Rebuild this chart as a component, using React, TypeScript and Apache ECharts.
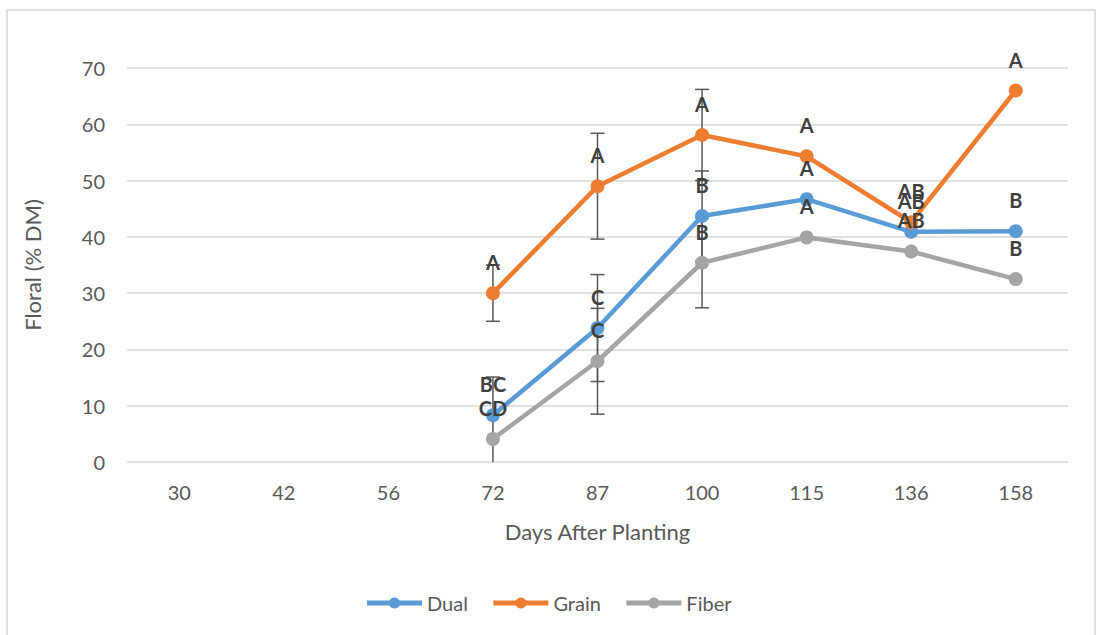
import React, { useEffect, useRef } from "react";
import * as echarts from "echarts";

// Sampling dates (days after planting)
const days = ["30", "42", "56", "72", "87", "100", "115", "136", "158"];

// Floral fraction (% DM) per crop type; null = not sampled
const dual = [null, null, null, 8.3, 23.8, 43.7, 46.7, 40.9, 41.0];
const grain = [null, null, null, 30.0, 49.0, 58.1, 54.3, 42.6, 66.0];
const fiber = [null, null, null, 4.1, 17.9, 35.4, 39.9, 37.4, 32.5];

// Mean separation letters
const dualLetters = ["", "", "", "BC", "C", "B", "A", "AB", "B"];
const grainLetters = ["", "", "", "A", "A", "A", "A", "AB", "A"];
const fiberLetters = ["", "", "", "CD", "C", "B", "A", "AB", "B"];

// Error bar half-widths (± % DM); null = no bar
const dualErr = [null, null, null, null, 9.5, 8.0, null, null, null];
const grainErr = [null, null, null, 5.0, 9.4, 8.1, null, null, null];
const fiberErr = [null, null, null, 11.0, 9.4, 8.0, null, null, null];

const yTicks = { min: 0, max: 70, interval: 10 };

const FONT = "Lato, 'Open Sans', sans-serif";
const COLORS = { Dual: "#5B9BD5", Grain: "#ED7D31", Fiber: "#A5A5A5" };

function errorData(values: (number | null)[], errs: (number | null)[]) {
  const out: number[][] = [];
  values.forEach((v, i) => {
    const e = errs[i];
    if (v != null && e != null) out.push([i, v - e, v + e]);
  });
  return out;
}

function errorSeries(values: (number | null)[], errs: (number | null)[]) {
  return {
    type: "custom",
    z: 1,
    silent: true,
    data: errorData(values, errs),
    renderItem: (params: any, api: any) => {
      const idx = api.value(0);
      const lo = Math.max(api.value(1), yTicks.min);
      const hi = Math.min(api.value(2), yTicks.max);
      const top = api.coord([idx, hi]);
      const bottom = api.coord([idx, lo]);
      const half = 7;
      const style = { stroke: "#595959", lineWidth: 1.5 };
      const children: any[] = [
        { type: "line", shape: { x1: top[0], y1: top[1], x2: bottom[0], y2: bottom[1] }, style },
      ];
      if (api.value(2) <= yTicks.max)
        children.push({ type: "line", shape: { x1: top[0] - half, y1: top[1], x2: top[0] + half, y2: top[1] }, style });
      if (api.value(1) >= yTicks.min)
        children.push({ type: "line", shape: { x1: bottom[0] - half, y1: bottom[1], x2: bottom[0] + half, y2: bottom[1] }, style });
      return { type: "group", children };
    },
  };
}

function lineSeries(name: string, values: (number | null)[], letters: string[]) {
  return {
    name,
    type: "line",
    z: 3,
    data: values,
    connectNulls: false,
    symbol: "circle",
    symbolSize: 14,
    lineStyle: { width: 4.5, color: (COLORS as any)[name] },
    itemStyle: { color: (COLORS as any)[name] },
    label: {
      show: true,
      position: "top",
      distance: 14,
      formatter: (p: any) => letters[p.dataIndex] || "",
      color: "#404040",
      fontWeight: "bold",
      fontSize: 20,
      fontFamily: FONT,
    },
    labelLayout: { hideOverlap: false },
  };
}

export default function App() {
  const ref = useRef<HTMLDivElement>(null);

  useEffect(() => {
    if (!ref.current) return;
    const chart = echarts.init(ref.current, undefined, { renderer: "svg" });
    chart.setOption({
      animation: false,
      backgroundColor: "#ffffff",
      textStyle: { fontFamily: FONT },
      graphic: [
        {
          type: "rect",
          shape: { x: 7, y: 10, width: 1088, height: 640 },
          style: { fill: "none", stroke: "#d9d9d9", lineWidth: 1.5 },
          silent: true,
        },
      ],
      grid: { left: 127, right: 28, top: 68, bottom: 173 },
      legend: {
        top: 588,
        left: "center",
        itemWidth: 55,
        itemHeight: 14,
        itemGap: 23,
        lineStyle: { width: 5 },
        textStyle: { fontSize: 20, color: "#595959", fontFamily: FONT },
        data: ["Dual", "Grain", "Fiber"],
      },
      xAxis: {
        type: "category",
        data: days,
        boundaryGap: true,
        name: "Days After Planting",
        nameLocation: "middle",
        nameGap: 58,
        nameTextStyle: { fontSize: 22, color: "#595959", fontFamily: FONT },
        axisLine: { show: false },
        axisTick: { show: false },
        axisLabel: { fontSize: 20, color: "#595959", margin: 20, fontFamily: FONT },
      },
      yAxis: {
        type: "value",
        min: yTicks.min,
        max: yTicks.max,
        interval: yTicks.interval,
        name: "Floral (% DM)",
        nameLocation: "middle",
        nameGap: 84,
        nameRotate: 90,
        nameTextStyle: { fontSize: 22, color: "#595959", fontFamily: FONT },
        axisLine: { show: false },
        axisTick: { show: false },
        axisLabel: { fontSize: 20, color: "#595959", margin: 22, fontFamily: FONT },
        splitLine: { lineStyle: { color: "#d9d9d9", width: 1.5 } },
      },
      series: [
        errorSeries(dual, dualErr),
        errorSeries(grain, grainErr),
        errorSeries(fiber, fiberErr),
        lineSeries("Dual", dual, dualLetters),
        lineSeries("Grain", grain, grainLetters),
        lineSeries("Fiber", fiber, fiberLetters),
      ],
    });
    return () => chart.dispose();
  }, []);

  return (
    <div
      ref={ref}
      style={{ position: "absolute", left: 0, top: 0, width: 1096, height: 635 }}
    />
  );
}
